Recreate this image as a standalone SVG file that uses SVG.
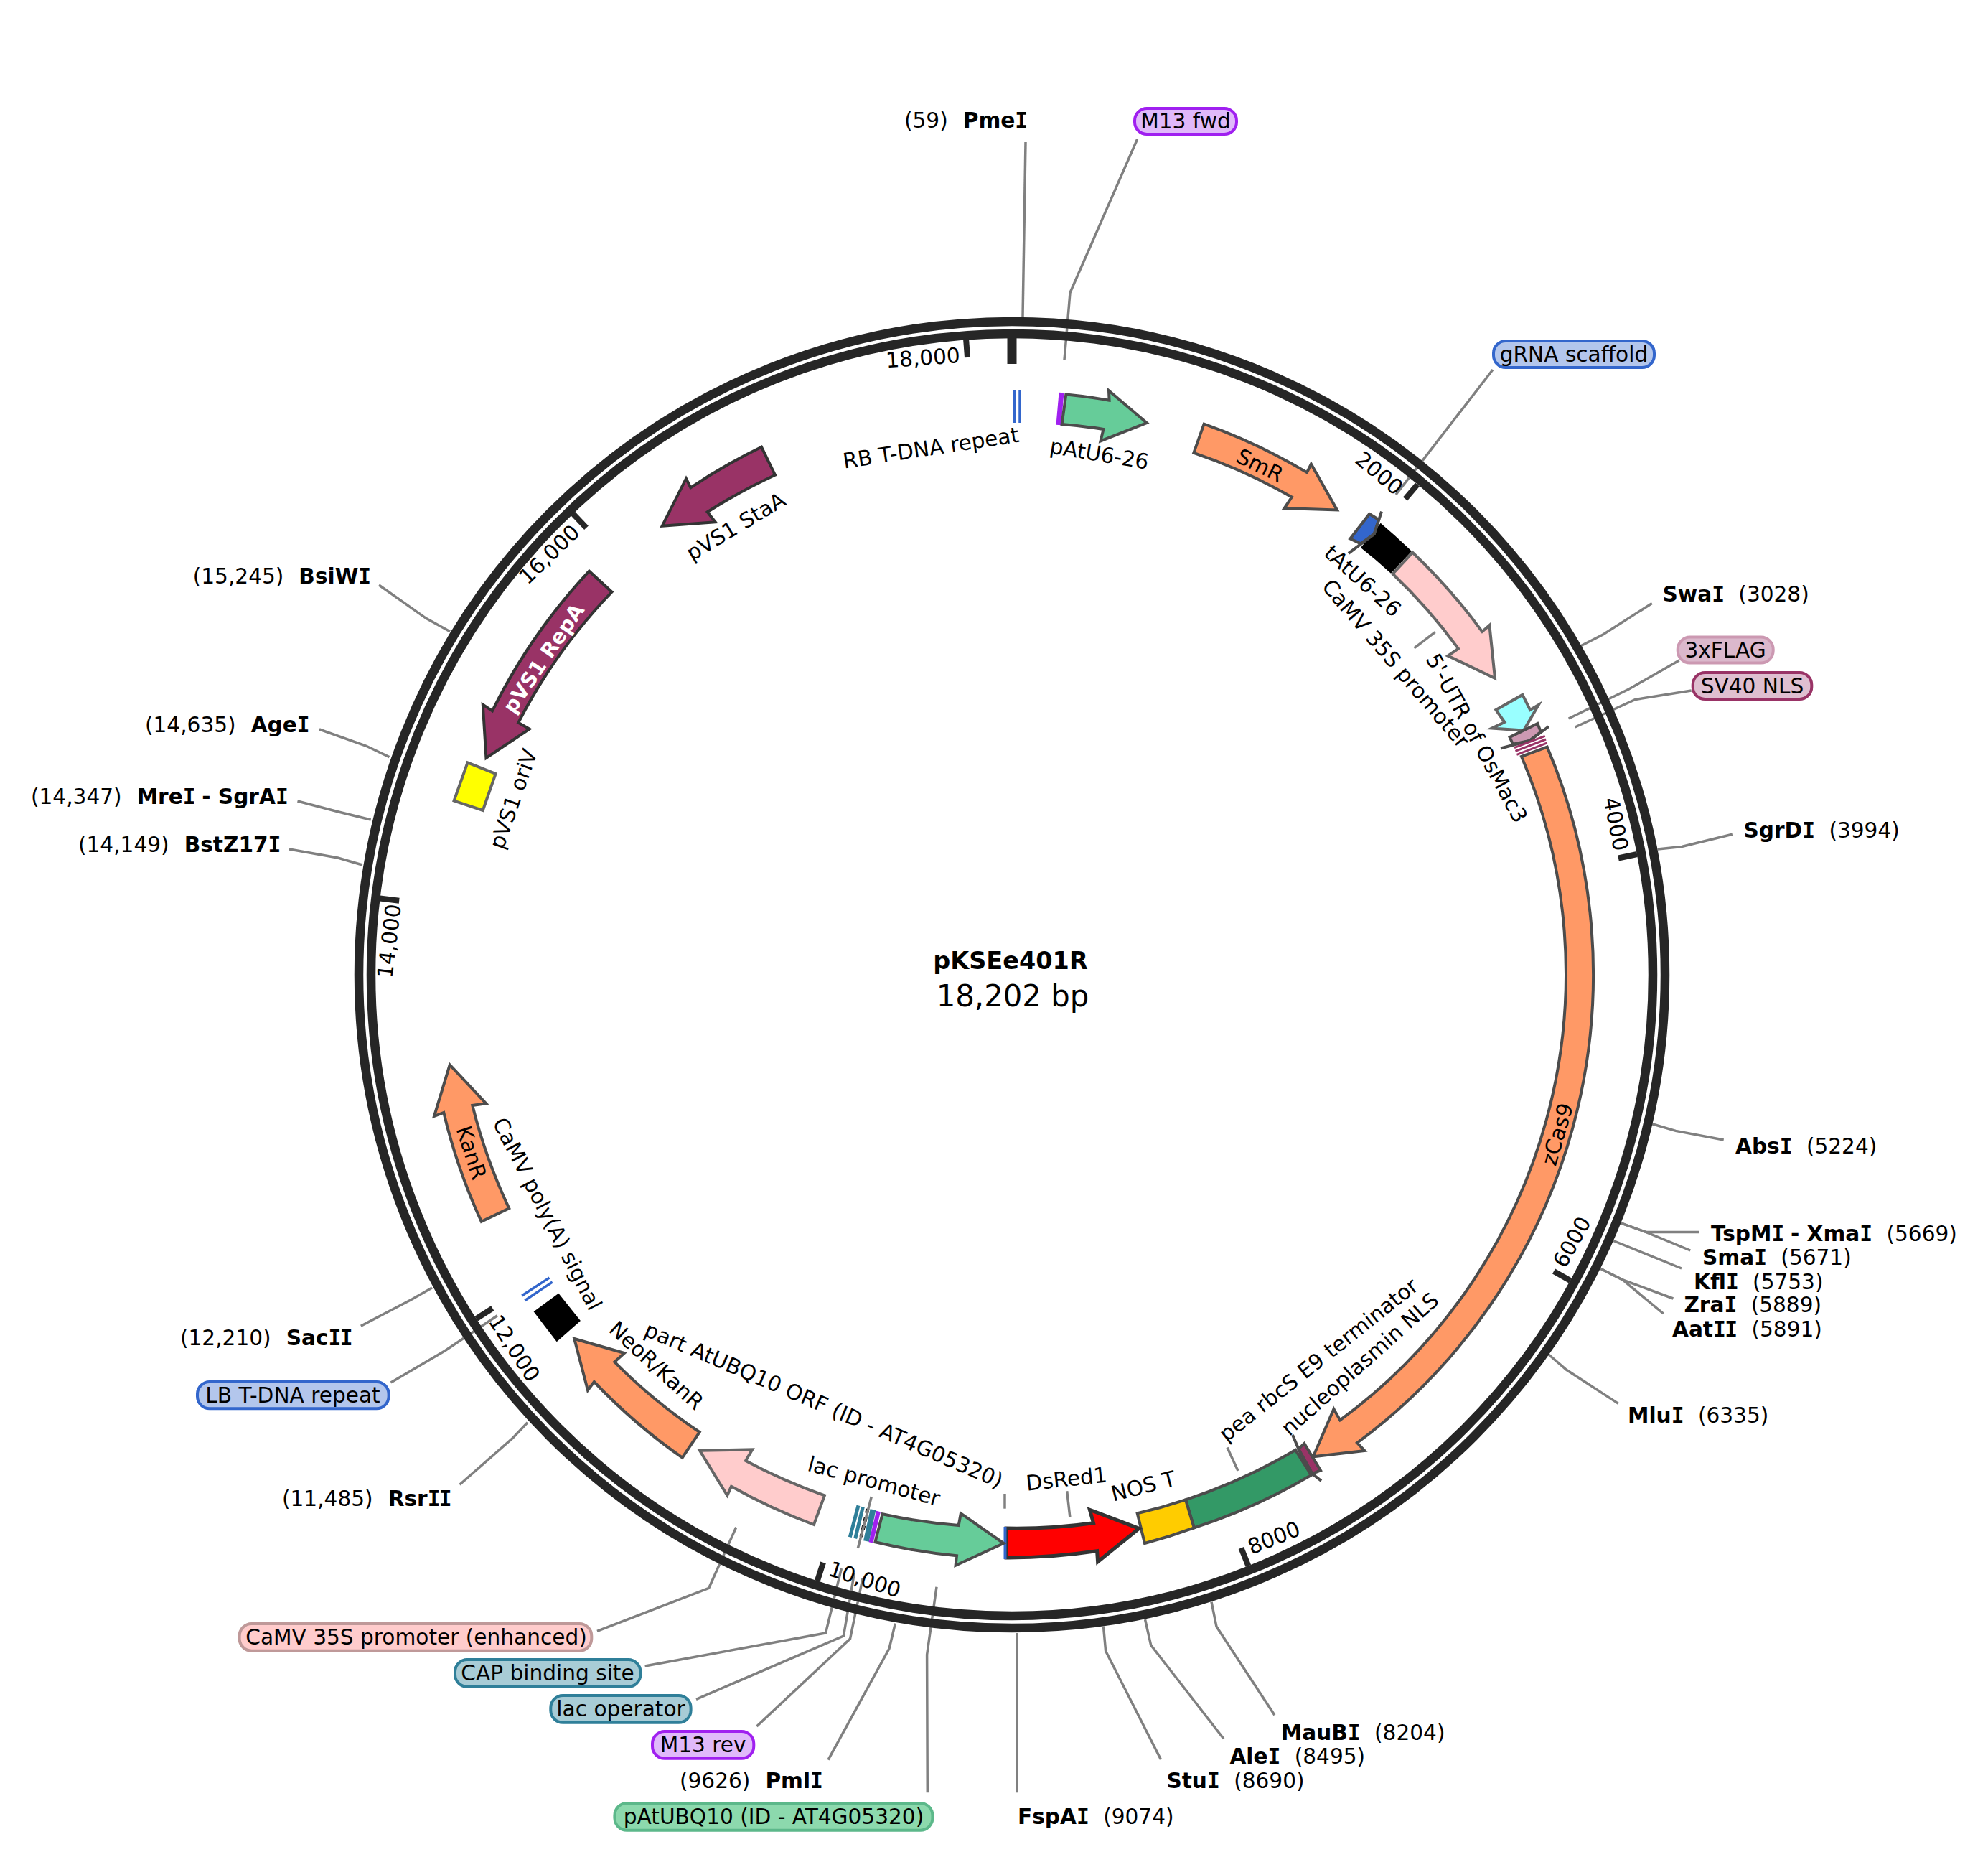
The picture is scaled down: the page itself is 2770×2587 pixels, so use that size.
<svg xmlns="http://www.w3.org/2000/svg" width="2770" height="2587" viewBox="0 0 2770 2587">
<style>
text{font-family:"DejaVu Sans","Liberation Sans",sans-serif;font-size:29.6px;fill:#000}
.m{text-anchor:middle}
.b{font-weight:700}
.I{font-family:"DejaVu Sans Mono","DejaVu Sans",monospace;font-weight:700;letter-spacing:-1.6px}
.ring{fill:none;stroke:#262626;stroke-width:12.5}
.tick{stroke:#262626;stroke-width:8}
.f{stroke:#4c4c4c;stroke-width:4;stroke-linejoin:miter}
.g{stroke:#666;stroke-width:4;stroke-linejoin:miter}
.d{stroke:#333;stroke-width:5;stroke-linejoin:miter}
.o{fill:#f96}
.con polyline{fill:none;stroke:#808080;stroke-width:3.5}
.p{stroke-width:4}
.blue{fill:#b3c6ec;stroke:#36c}
.m13{fill:#e0b9fa;stroke:#a020f0}
.teal{fill:#a8ccd6;stroke:#2f7f99}
</style>
<rect width="2770" height="2587" fill="#fff"/>
<g id="connectors" class="con">
<polyline points="1429,198 1425,442"/>
<polyline points="1584.6,194 1491,407.7 1483,501.4"/>
<polyline points="2080,515 1980.7,643.4 1945,689"/>
<polyline points="2301.8,840.5 2234,883.7 2202.7,899.8"/>
<polyline points="2339.7,920 2269.6,960 2185.7,1001"/>
<polyline points="2356.7,962 2278.6,974.4 2194.6,1013"/>
<polyline points="2413.8,1162.3 2343.3,1179.5 2309.8,1183"/>
<polyline points="2401.7,1588 2334.8,1575.4 2302,1565.8"/>
<polyline points="2367.6,1716.6 2293.8,1716.6 2257.7,1703.6"/>
<polyline points="2355.3,1742 2293.8,1716.6 2257.7,1703.6"/>
<polyline points="2343,1767 2248,1728.5"/>
<polyline points="2331.4,1809 2261,1783 2229,1766.7"/>
<polyline points="2317.7,1830 2261,1783 2229,1766.7"/>
<polyline points="2255,1955.4 2182.6,1908.3 2157.3,1886.5"/>
<polyline points="1775.9,2389.3 1695,2266 1688,2231.7"/>
<polyline points="1705,2422.3 1603.6,2291.7 1595.5,2256"/>
<polyline points="1617.4,2451 1540.6,2300 1537.5,2265.7"/>
<polyline points="1417,2497.3 1417,2308 1417,2275"/>
<polyline points="832,2272.3 987.7,2212.3 1025.7,2127.7"/>
<polyline points="898.6,2321 1150.5,2275 1172.4,2185"/>
<polyline points="970,2367.3 1175.4,2279 1190.3,2191.7"/>
<polyline points="1054.4,2405 1184.5,2283 1202,2199"/>
<polyline points="1154,2451.7 1239,2296.7 1247.4,2261.7"/>
<polyline points="1292.3,2497.3 1291.6,2305 1305,2210.7"/>
<polyline points="502.8,1847.3 574,1810 602,1794"/>
<polyline points="544.6,1926 620,1881.7 693,1832.7"/>
<polyline points="640.5,2068.3 714.5,2003.3 735,1981.7"/>
<polyline points="528,815 594,861.6 627,879.8"/>
<polyline points="445,1016 511,1039.5 542.5,1054.6"/>
<polyline points="414.5,1116 470.7,1130.7 516.7,1142"/>
<polyline points="403,1183 470.7,1195 505,1205"/>
<polyline points="1970.5,902.8 1999.6,880.6"/>
<polyline points="1710,2016.6 1725,2049"/>
<polyline points="1486.7,2077.3 1490.8,2113.3"/>
<polyline points="1400,2081 1400,2101.7"/>
</g>
<g id="backbone">
<circle class="ring" cx="1410" cy="1358" r="910"/>
<circle class="ring" cx="1410" cy="1358" r="893"/>
<line class="tick" x1="1410" y1="471" x2="1410" y2="507" style="stroke-width:13"/>
<line class="tick" x1="1975" y1="675" x2="1958" y2="695"/>
<line class="tick" x1="2281" y1="1190" x2="2255" y2="1195.5"/>
<line class="tick" x1="2188" y1="1784" x2="2165" y2="1771"/>
<line class="tick" x1="1739.4" y1="2181.6" x2="1729.4" y2="2156.5"/>
<line class="tick" x1="1138.8" y1="2202.5" x2="1147" y2="2176.8"/>
<line class="tick" x1="663.6" y1="1837.2" x2="686.3" y2="1822.6"/>
<line class="tick" x1="529.4" y1="1251.5" x2="556.2" y2="1254.7"/>
<line class="tick" x1="798.3" y1="715.6" x2="817" y2="735.2"/>
<line class="tick" x1="1346" y1="471.5" x2="1348" y2="498"/>
<text class="m" dy=".36em" transform="translate(1922 659) rotate(40)">2000</text>
<text class="m" dy=".36em" transform="translate(2252 1148) rotate(79)">4000</text>
<text class="m" dy=".36em" transform="translate(2190 1730) rotate(-61)">6000</text>
<text class="m" dy=".36em" transform="translate(1775 2142) rotate(-22)">8000</text>
<text class="m" dy=".36em" transform="translate(1205 2200) rotate(18)">10,000</text>
<text class="m" dy=".36em" transform="translate(717 1878) rotate(57)">12,000</text>
<text class="m" dy=".36em" transform="translate(542 1311) rotate(-83)">14,000</text>
<text class="m" dy=".36em" transform="translate(765 772) rotate(-44)">16,000</text>
<text class="m" dy=".36em" transform="translate(1286 498) rotate(-4)">18,000</text>
</g>
<g id="RB-T-DNA"><path d="M1413.5 544V589M1421 544V589" stroke="#36c" stroke-width="3.5" fill="none"/></g>
<g id="M13-fwd-bar"><path d="M1479 547L1475 592" stroke="#a020f0" stroke-width="7"/></g>
<g id="pAtU6-26"><path class="f" fill="#6c9" d="M1485.3 549.6A812 812 0 0 1 1545.6 557.7L1545 544.3L1597.8 589L1533.5 614.4L1537.5 597.9A771 771 0 0 0 1479.6 591Z"/></g>
<g id="SmR"><path class="f o" d="M1677.6 590.7A812 812 0 0 1 1821 658.1L1826.9 646.5L1863 710.4L1789.5 708.1L1799.9 692.5A771 771 0 0 0 1663.3 630.9Z"/><text class="m" dy=".36em" transform="translate(1755.7 648) rotate(26)">SmR</text></g>
<g id="tAtU6-26"><path fill="#000" d="M1923.7 728.7A812 812 0 0 1 1967 768L1938 798.7A771 771 0 0 0 1896 763Z"/></g>
<g id="gRNA-scaffold"><path class="f" fill="#36c" d="M1908 716L1881.3 750.5L1896 757.4L1914.7 744L1921 724Z"/><path class="f" fill="none" d="M1925 712.6L1914.7 744L1879 770.8"/></g>
<g id="CaMV-35S"><path class="g" fill="#fcc" d="M1968.3 769.7A812 812 0 0 1 2065.2 879.9L2075.4 871L2083 945L2017.4 913.6L2032 903.6A771 771 0 0 0 1940.6 799.5Z"/></g>
<g id="UTR-OsMac3"><path class="g" fill="#9ff" d="M2121.4 967.9L2132 989L2143.8 982L2123 1017.6L2078.6 1014.6L2096.4 1006L2084.4 989Z"/></g>
<g id="FLAG"><path class="f" style="fill:#cc99b2" d="M2142.4 1008L2146.9 1019.6L2131 1032L2108 1036.8L2103.6 1027Z"/><path class="f" fill="none" d="M2158 1012L2131 1032L2091 1042.5"/></g>
<g id="SV40-NLS"><path d="M2110 1041.7L2152.7 1025.3M2111.5 1046.4L2154 1030M2113.4 1051.3L2155.8 1034.9" stroke="#936" stroke-width="3" fill="none"/></g>
<g id="zCas9"><path class="f o" d="M2155.8 1040.6A812 812 0 0 1 1891 2010L1901.4 2021L1829.7 2029.3L1858.4 1963L1867.2 1978.4A771 771 0 0 0 2120 1054Z"/><text class="m" dy=".36em" transform="translate(2169.6 1580) rotate(-73.7)">zCas9</text></g>
<g id="nucleoplasmin-NLS"><path class="f" fill="#936" d="M1817.4 2011L1840 2048.4L1828.3 2053L1809.2 2018.6Z"/><path class="f" fill="none" d="M1801 1999L1810 2020L1828.3 2053L1841 2063"/></g>
<g id="pea-rbcS"><path class="f" fill="#396" d="M1805 2020A771 771 0 0 1 1652 2089.3L1663.8 2128.3A812 812 0 0 0 1827 2055Z"/></g>
<g id="NOS-T"><path class="f" fill="#fc0" d="M1652 2089.3A771 771 0 0 1 1584.7 2108.3L1595 2150A812 812 0 0 0 1663.8 2128.3Z"/></g>
<g id="DsRed1"><path class="d" fill="#f00" d="M1402 2129A771 771 0 0 0 1523.5 2121.7L1518.4 2103.3L1587.2 2129.3L1529.6 2175.7L1528.6 2160.7A812 812 0 0 1 1402 2170Z"/><path d="M1400.5 2127V2172" stroke="#36c" stroke-width="4"/></g>
<g id="pAtUBQ10"><path class="f" fill="#6c9" d="M1229.6 2109.3A771 771 0 0 0 1335.7 2125L1338.8 2108.3L1398.5 2150L1331.6 2180.7L1333 2167.3A812 812 0 0 1 1219.4 2148.3Z"/></g>
<g id="lac-group"><path d="M1196 2097.3L1184.3 2141.3M1202.3 2099.3L1191.7 2143.3" stroke="#2f7f99" stroke-width="5" fill="none"/><path d="M1216.5 2103L1207 2147" stroke="#2f7f99" stroke-width="8" fill="none"/><path d="M1209 2102L1200 2141" stroke="#000" stroke-width="5" stroke-dasharray="6 6" fill="none"/><path d="M1224 2105.5L1213.5 2149" stroke="#a020f0" stroke-width="6" fill="none"/></g>
<g id="connector-lac-promoter" class="con"><polyline points="1214.3,2085 1195.4,2156.7"/></g>
<g id="CaMV-35S-enhanced"><path class="g" fill="#fcc" d="M1134 2124A812 812 0 0 1 1019 2070.7L1013.3 2083.3L975 2020.7L1048.3 2019.3L1039 2035A771 771 0 0 0 1149 2083.3Z"/></g>
<g id="NeoR-KanR"><path class="f o" d="M950.7 2030.7A812 812 0 0 1 827.8 1925L819 1936.7L800.2 1865L870 1885L856.3 1897.3A771 771 0 0 0 974.7 1995Z"/></g>
<g id="CaMV-polyA"><path fill="#000" d="M778.3 1801.7L808.9 1840L775.7 1869.3L743.6 1827.3Z"/></g>
<g id="LB-T-DNA"><path d="M727.2 1805L765.5 1780M731.3 1811.7L769.6 1786" stroke="#36c" stroke-width="3.5" fill="none"/></g>
<g id="KanR"><path class="f o" d="M670.7 1701.7A812 812 0 0 1 618.3 1550L605 1555L626.7 1483.3L677.3 1537.3L658.3 1540A771 771 0 0 0 709.3 1683.3Z"/><text class="m" dy=".36em" transform="translate(657.3 1605.7) rotate(72)">KanR</text></g>
<g id="pVS1-oriV"><path class="g" fill="#ff0" d="M651.5 1062.3L690.6 1078L672.8 1129L632.6 1115.6Z"/></g>
<g id="pVS1-RepA"><path class="d" style="stroke-width:4" fill="#936" d="M820.9 795.6A812 812 0 0 0 686 990.4L672.8 981.6L677.4 1056L737.7 1015.6L722.2 1006.8A771 771 0 0 1 852.5 824.7Z"/><text class="m b" dy=".36em" style="fill:#fff;font-size:28.5px" transform="translate(757 917) rotate(-55.8)">pVS1 RepA</text></g>
<g id="pVS1-StaA"><path class="d" style="stroke-width:4" fill="#936" d="M1061 622.7A812 812 0 0 0 962.3 679.3L956 666.7L922.7 732.7L996.7 727.3L985.7 713.3A771 771 0 0 1 1080 661.7Z"/></g>
<g id="feature-labels">
<text class="m" dy=".36em" transform="translate(1025 733) rotate(-31)">pVS1 StaA</text>
<text class="m" dy=".36em" transform="translate(715 1113) rotate(-70.6)">pVS1 oriV</text>
<text class="m" dy=".36em" transform="translate(1297 623.6) rotate(-8.7)">RB T-DNA repeat</text>
<text class="m" dy=".36em" transform="translate(1531.8 632) rotate(9.5)">pAtU6-26</text>
<text class="m" dy=".36em" transform="translate(1899 809) rotate(42)">tAtU6-26</text>
<text class="m" dy=".36em" transform="translate(1945 924) rotate(49.5)">CaMV 35S promoter</text>
<text class="m" dy=".36em" transform="translate(2058 1028) rotate(61.5)">5'-UTR of OsMac3</text>
<text class="m" dy=".36em" transform="translate(1837 1894) rotate(-38.5)">pea rbcS E9 terminator</text>
<text class="m" dy=".36em" transform="translate(1894.6 1900) rotate(-41.7)">nucleoplasmin NLS</text>
<text class="m" dy=".36em" transform="translate(1486 2060) rotate(-6.2)">DsRed1</text>
<text class="m" dy=".36em" transform="translate(1593 2070) rotate(-14.4)">NOS T</text>
<text class="m" dy=".36em" transform="translate(1218 2063) rotate(15.2)">lac promoter</text>
<text class="m" dy=".36em" transform="translate(1148 1957) rotate(23.3)">part AtUBQ10 ORF (ID - AT4G05320)</text>
<text class="m" dy=".36em" transform="translate(914.8 1902) rotate(42.5)">NeoR/KanR</text>
<text class="m" dy=".36em" transform="translate(763 1691) rotate(62.8)">CaMV poly(A) signal</text>
</g>
<g id="title">
<text class="m b" x="1408" y="1350" style="font-size:33.5px">pKSEe401R</text>
<text class="m" x="1411" y="1402" style="font-size:41.8px">18,202 bp</text>
</g>
<g id="site-labels">
<text id="PmeI" x="1260" y="178">(59)<tspan class="b" dx="21">Pme</tspan><tspan class="I">I</tspan></text>
<text id="SwaI" x="2316.5" y="838"><tspan class="b">Swa</tspan><tspan class="I">I</tspan><tspan dx="21">(3028)</tspan></text>
<text id="SgrDI" x="2429.5" y="1167"><tspan class="b">SgrD</tspan><tspan class="I">I</tspan><tspan dx="21">(3994)</tspan></text>
<text id="AbsI" x="2418" y="1607"><tspan class="b">Abs</tspan><tspan class="I">I</tspan><tspan dx="21">(5224)</tspan></text>
<text id="TspMI-XmaI" x="2384" y="1728.5"><tspan class="b">TspM</tspan><tspan class="I">I</tspan><tspan class="b"> - Xma</tspan><tspan class="I">I</tspan><tspan dx="21">(5669)</tspan></text>
<text id="SmaI" x="2372" y="1762"><tspan class="b">Sma</tspan><tspan class="I">I</tspan><tspan dx="21">(5671)</tspan></text>
<text id="KflI" x="2360" y="1796"><tspan class="b">Kfl</tspan><tspan class="I">I</tspan><tspan dx="21">(5753)</tspan></text>
<text id="ZraI" x="2346.4" y="1828.4"><tspan class="b">Zra</tspan><tspan class="I">I</tspan><tspan dx="21">(5889)</tspan></text>
<text id="AatII" x="2330" y="1862.4"><tspan class="b">Aat</tspan><tspan class="I">II</tspan><tspan dx="21">(5891)</tspan></text>
<text id="MluI" x="2268" y="1982.2"><tspan class="b">Mlu</tspan><tspan class="I">I</tspan><tspan dx="21">(6335)</tspan></text>
<text id="MauBI" x="1784.8" y="2424"><tspan class="b">MauB</tspan><tspan class="I">I</tspan><tspan dx="21">(8204)</tspan></text>
<text id="AleI" x="1713.4" y="2456.7"><tspan class="b">Ale</tspan><tspan class="I">I</tspan><tspan dx="21">(8495)</tspan></text>
<text id="StuI" x="1625.4" y="2490.7"><tspan class="b">Stu</tspan><tspan class="I">I</tspan><tspan dx="21">(8690)</tspan></text>
<text id="FspAI" x="1418" y="2540.7"><tspan class="b">FspA</tspan><tspan class="I">I</tspan><tspan dx="21">(9074)</tspan></text>
<text id="PmlI" x="947" y="2490.7">(9626)<tspan class="b" dx="21">Pml</tspan><tspan class="I">I</tspan></text>
<text id="RsrII" x="393" y="2098.3">(11,485)<tspan class="b" dx="21">Rsr</tspan><tspan class="I">II</tspan></text>
<text id="SacII" x="251" y="1874">(12,210)<tspan class="b" dx="21">Sac</tspan><tspan class="I">II</tspan></text>
<text id="BstZ17I" x="109" y="1187">(14,149)<tspan class="b" dx="21">BstZ17</tspan><tspan class="I">I</tspan></text>
<text id="MreI-SgrAI" x="43" y="1120">(14,347)<tspan class="b" dx="21">Mre</tspan><tspan class="I">I</tspan><tspan class="b"> - SgrA</tspan><tspan class="I">I</tspan></text>
<text id="AgeI" x="202" y="1020">(14,635)<tspan class="b" dx="21">Age</tspan><tspan class="I">I</tspan></text>
<text id="BsiWI" x="268.7" y="812.5">(15,245)<tspan class="b" dx="21">BsiW</tspan><tspan class="I">I</tspan></text>
</g>
<g id="M13-fwd-pill"><rect class="p m13" x="1581" y="151" width="142" height="36" rx="17"/><text class="m" x="1652" y="179">M13 fwd</text></g>
<g id="gRNA-scaffold-pill"><rect class="p blue" x="2081" y="475" width="224" height="37" rx="17"/><text class="m" x="2193" y="504">gRNA scaffold</text></g>
<g id="FLAG-pill"><rect class="p" fill="#dbb8cc" stroke="#cc99b2" x="2337.7" y="887.6" width="133" height="36" rx="17"/><text class="m" x="2404" y="916">3xFLAG</text></g>
<g id="SV40-pill"><rect class="p" fill="#dfbfd0" stroke="#936" x="2358.7" y="937" width="165.6" height="37" rx="17"/><text class="m" x="2441.5" y="966">SV40 NLS</text></g>
<g id="CaMV-pill"><rect class="p" fill="#fcc" stroke="#bf9999" x="333.6" y="2262" width="490.7" height="37.7" rx="17"/><text class="m" x="580" y="2291">CaMV 35S promoter (enhanced)</text></g>
<g id="CAP-pill"><rect class="p teal" x="634" y="2312" width="258.4" height="37.7" rx="17"/><text class="m" x="763" y="2341">CAP binding site</text></g>
<g id="lac-operator-pill"><rect class="p teal" x="767.3" y="2362" width="195.3" height="37.7" rx="17"/><text class="m" x="865" y="2391">lac operator</text></g>
<g id="M13-rev-pill"><rect class="p m13" x="909" y="2412" width="141.3" height="37.7" rx="17"/><text class="m" x="979.6" y="2441">M13 rev</text></g>
<g id="pAtUBQ10-pill"><rect class="p" fill="#8cd9ad" stroke="#5cb88a" x="856.4" y="2512" width="443" height="37.7" rx="17"/><text class="m" x="1078" y="2541">pAtUBQ10 (ID - AT4G05320)</text></g>
<g id="LB-pill"><rect class="p blue" x="275" y="1925" width="266.6" height="37.3" rx="17"/><text class="m" x="408" y="1954">LB T-DNA repeat</text></g>
</svg>
